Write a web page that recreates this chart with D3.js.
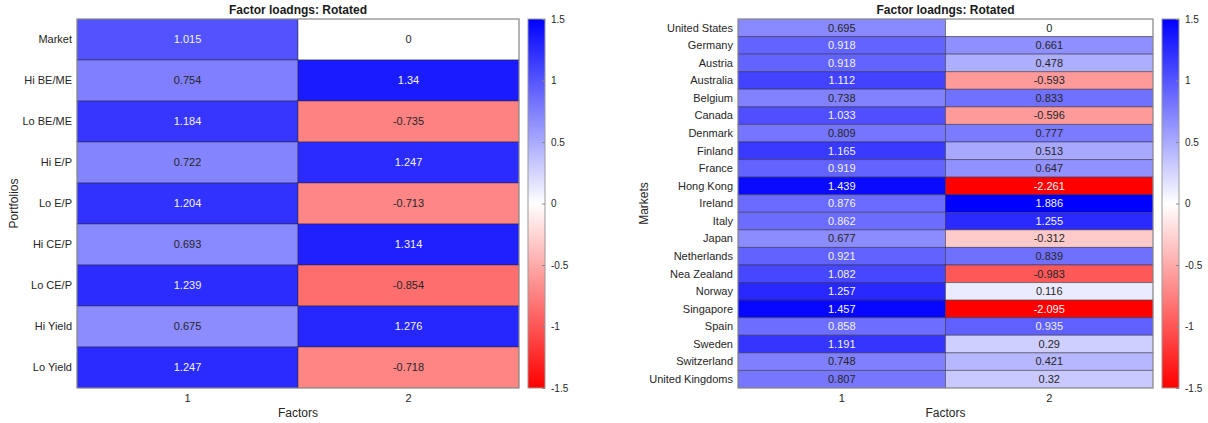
<!DOCTYPE html>
<html>
<head>
<meta charset="utf-8">
<script src="https://cdn.jsdelivr.net/npm/d3@7"></script>
<style>
  html, body { margin: 0; padding: 0; background: #fff; }
  svg { display: block; font-family: "Liberation Sans", Arial, sans-serif; }
</style>
</head>
<body>
<svg id="chart" width="1208" height="423"></svg>
<script>
// data
const factors = ["1", "2"];

const portfolios = ["Market", "Hi BE/ME", "Lo BE/ME", "Hi E/P", "Lo E/P", "Hi CE/P", "Lo CE/P", "Hi Yield", "Lo Yield"];
const portfolioF1 = [1.015, 0.754, 1.184, 0.722, 1.204, 0.693, 1.239, 0.675, 1.247];
const portfolioF2 = [0, 1.34, -0.735, 1.247, -0.713, 1.314, -0.854, 1.276, -0.718];

const markets = ["United States", "Germany", "Austria", "Australia", "Belgium", "Canada", "Denmark", "Finland",
  "France", "Hong Kong", "Ireland", "Italy", "Japan", "Netherlands", "Nea Zealand", "Norway", "Singapore",
  "Spain", "Sweden", "Switzerland", "United Kingdoms"];
const marketF1 = [0.695, 0.918, 0.918, 1.112, 0.738, 1.033, 0.809, 1.165, 0.919, 1.439, 0.876, 0.862, 0.677,
  0.921, 1.082, 1.257, 1.457, 0.858, 1.191, 0.748, 0.807];
const marketF2 = [0, 0.661, 0.478, -0.593, 0.833, -0.596, 0.777, 0.513, 0.647, -2.261, 1.886, 1.255, -0.312,
  0.839, -0.983, 0.116, -2.095, 0.935, 0.29, 0.421, 0.32];

const cbTicks = [1.5, 1, 0.5, 0, -0.5, -1, -1.5];
const title = "Factor loadngs: Rotated";

const svg = d3.select("#chart");
const defs = svg.append("defs");

const color = d3.scaleLinear()
  .domain([-1.5, 0, 1.5])
  .range(["#ff0000", "#ffffff", "#0000ff"])
  .clamp(true);

function textColor(v) {
  const c = d3.rgb(color(v));
  const lum = (0.299 * c.r + 0.587 * c.g + 0.114 * c.b) / 255;
  return lum < 0.5 ? "#f2f2f2" : "#262626";
}

// gradient for colorbars
const grad = defs.append("linearGradient")
  .attr("id", "cbgrad")
  .attr("x1", 0).attr("y1", 1).attr("x2", 0).attr("y2", 0);
d3.range(0, 1.0001, 0.05).forEach(t => {
  grad.append("stop").attr("offset", t).attr("stop-color", color(-1.5 + 3 * t));
});

function heatmap(opt) {
  const g = svg.append("g");
  const x = d3.scaleBand().domain(factors).range([opt.x0, opt.x1]);
  const y = d3.scaleBand().domain(opt.rows).range([opt.y0, opt.y1]);

  const cells = [];
  opt.rows.forEach((r, i) => {
    cells.push({ row: r, col: "1", v: opt.f1[i] });
    cells.push({ row: r, col: "2", v: opt.f2[i] });
  });

  g.selectAll("rect.cell")
    .data(cells)
    .enter()
    .append("rect")
    .attr("class", "cell")
    .attr("x", d => x(d.col))
    .attr("y", d => y(d.row))
    .attr("width", x.bandwidth())
    .attr("height", y.bandwidth())
    .attr("fill", d => color(d.v))
    .attr("stroke", "#262626")
    .attr("stroke-opacity", 0.45)
    .attr("stroke-width", 1);

  g.selectAll("text.val")
    .data(cells)
    .enter()
    .append("text")
    .attr("class", "val")
    .attr("x", d => x(d.col) + x.bandwidth() / 2)
    .attr("y", d => y(d.row) + y.bandwidth() / 2)
    .attr("dy", "0.35em")
    .attr("text-anchor", "middle")
    .attr("font-size", 11)
    .attr("fill", d => textColor(d.v))
    .text(d => String(d.v));

  // outer frame
  g.append("rect")
    .attr("x", opt.x0).attr("y", opt.y0)
    .attr("width", opt.x1 - opt.x0).attr("height", opt.y1 - opt.y0)
    .attr("fill", "none")
    .attr("stroke", "#9a9a9a")
    .attr("stroke-width", 1);

  // row labels
  g.selectAll("text.rowlab")
    .data(opt.rows)
    .enter()
    .append("text")
    .attr("x", opt.x0 - 5)
    .attr("y", d => y(d) + y.bandwidth() / 2)
    .attr("dy", "0.35em")
    .attr("text-anchor", "end")
    .attr("font-size", 11)
    .attr("fill", "#262626")
    .text(d => d);

  // column labels
  g.selectAll("text.collab")
    .data(factors)
    .enter()
    .append("text")
    .attr("x", d => x(d) + x.bandwidth() / 2)
    .attr("y", opt.y1 + 14)
    .attr("text-anchor", "middle")
    .attr("font-size", 11)
    .attr("fill", "#262626")
    .text(d => d);

  g.append("text")
    .attr("x", (opt.x0 + opt.x1) / 2)
    .attr("y", opt.y1 + 29)
    .attr("text-anchor", "middle")
    .attr("font-size", 12)
    .attr("fill", "#262626")
    .text("Factors");

  g.append("text")
    .attr("transform", `translate(${opt.ylabX},${(opt.y0 + opt.y1) / 2}) rotate(-90)`)
    .attr("text-anchor", "middle")
    .attr("font-size", 12)
    .attr("fill", "#262626")
    .text(opt.ylab);

  g.append("text")
    .attr("x", (opt.x0 + opt.x1) / 2)
    .attr("y", opt.y0 - 5)
    .attr("text-anchor", "middle")
    .attr("font-size", 12)
    .attr("font-weight", "bold")
    .attr("fill", "#1a1a1a")
    .text(title);

  // colorbar
  const cbX = opt.x1 + 9, cbW = 17;
  const cy = d3.scaleLinear().domain([-1.5, 1.5]).range([opt.y1, opt.y0]);
  g.append("rect")
    .attr("x", cbX).attr("y", opt.y0)
    .attr("width", cbW).attr("height", opt.y1 - opt.y0)
    .attr("fill", "url(#cbgrad)")
    .attr("stroke", "#9a9a9a")
    .attr("stroke-width", 1);

  const axis = d3.axisRight(cy).tickValues(cbTicks).tickSize(-3).tickPadding(6).tickFormat(d => String(d));
  const ag = g.append("g")
    .attr("transform", `translate(${cbX + cbW},0)`)
    .call(axis);
  ag.select(".domain").remove();
  ag.selectAll(".tick line").attr("stroke", "#8a8a8a");
  ag.selectAll(".tick text")
    .attr("font-size", 10)
    .attr("font-family", "Liberation Sans, Arial, sans-serif")
    .attr("fill", "#262626");
}

heatmap({ rows: portfolios, f1: portfolioF1, f2: portfolioF2, x0: 77, x1: 519, y0: 19, y1: 388, ylab: "Portfolios", ylabX: 18 });
heatmap({ rows: markets, f1: marketF1, f2: marketF2, x0: 738, x1: 1153, y0: 19, y1: 388, ylab: "Markets", ylabX: 648 });
</script>
</body>
</html>
